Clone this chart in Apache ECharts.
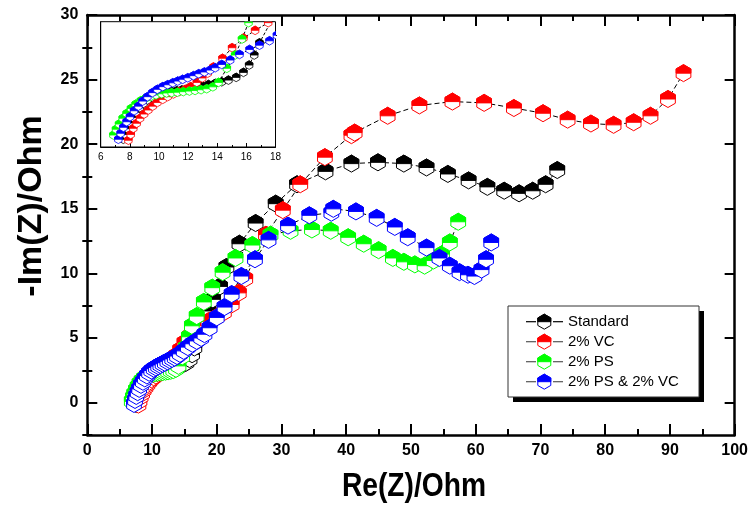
<!DOCTYPE html>
<html>
<head>
<meta charset="utf-8">
<script src="https://cdn.jsdelivr.net/npm/echarts@6/dist/echarts.min.js"></script>
<style>
  html, body { margin: 0; padding: 0; background: #fff; }
  #chart { width: 751px; height: 508px; }
</style>
</head>
<body>
<div id="chart"></div>
<script>
// Nyquist plots: Re(Z) vs -Im(Z), in Ohm
const seriesNames = ['Standard', '2% VC', '2% PS', '2% PS & 2% VC'];
const seriesColors = ['#000000', '#ff0000', '#00ff00', '#0000ff'];

const standardRe = [7.55, 7.68, 7.84, 8.02, 8.22, 8.44, 8.68, 8.94, 9.22, 9.52, 9.84, 10.18, 10.53, 10.88, 11.23, 11.57, 12.02, 12.48, 12.94, 13.40, 13.86, 14.31, 14.77, 15.30, 15.80, 16.19, 16.54, 16.90, 17.9, 18.7, 19.4, 20.5, 21.5, 23.5, 26.0, 29.1, 32.4, 36.8, 40.8, 44.9, 48.9, 52.4, 55.7, 58.9, 61.8, 64.4, 66.7, 68.8, 70.8, 72.6];
const standardIm = [-0.1, 0.15, 0.45, 0.75, 1.03, 1.30, 1.54, 1.76, 1.94, 2.08, 2.19, 2.27, 2.33, 2.38, 2.42, 2.46, 2.54, 2.62, 2.68, 2.74, 2.80, 2.88, 2.97, 3.11, 3.37, 3.75, 4.27, 4.90, 6.3, 7.1, 8.0, 9.0, 10.5, 12.3, 13.9, 15.4, 16.9, 17.9, 18.5, 18.6, 18.5, 18.2, 17.7, 17.2, 16.7, 16.4, 16.2, 16.4, 16.9, 18.0];

const vcRe = [7.9, 8.06, 8.24, 8.47, 8.70, 8.98, 9.27, 9.57, 9.89, 10.26, 10.60, 10.99, 11.38, 11.80, 12.18, 12.60, 12.97, 13.35, 13.74, 14.36, 15.02, 15.8, 16.6, 17.5, 18.7, 19.9, 21.1, 22.3, 23.4, 24.4, 27.6, 30.2, 32.9, 36.7, 40.8, 41.3, 46.4, 51.3, 56.4, 61.3, 65.9, 70.4, 74.2, 77.8, 81.3, 84.4, 87.0, 89.7, 92.1];
const vcIm = [-0.15, 0.15, 0.47, 0.73, 0.99, 1.21, 1.42, 1.62, 1.81, 1.97, 2.11, 2.25, 2.37, 2.49, 2.63, 2.85, 3.08, 3.33, 3.65, 4.10, 4.65, 5.15, 5.55, 5.95, 6.3, 6.6, 7.0, 7.6, 8.5, 9.6, 13.0, 14.9, 16.9, 19.0, 20.7, 20.9, 22.2, 23.0, 23.3, 23.2, 22.8, 22.4, 21.9, 21.6, 21.5, 21.7, 22.2, 23.5, 25.5];

const psRe = [6.87, 7.05, 7.26, 7.51, 7.78, 8.08, 8.40, 8.75, 9.09, 9.43, 9.80, 10.19, 10.53, 10.87, 11.27, 11.67, 12.09, 12.48, 12.89, 13.28, 13.70, 14.09, 14.66, 15.23, 15.70, 16.15, 16.9, 18.0, 19.3, 20.9, 22.9, 25.5, 28.3, 31.4, 34.7, 37.6, 40.3, 42.7, 45.0, 47.2, 48.9, 50.6, 52.1, 53.5, 54.8, 56.0, 57.3];
const psIm = [0.12, 0.42, 0.69, 0.99, 1.24, 1.50, 1.72, 1.90, 2.03, 2.12, 2.20, 2.26, 2.30, 2.32, 2.34, 2.37, 2.40, 2.43, 2.47, 2.52, 2.62, 2.85, 3.58, 4.27, 5.10, 5.95, 6.7, 7.8, 8.9, 10.1, 11.2, 12.2, 13.0, 13.3, 13.4, 13.3, 12.8, 12.3, 11.8, 11.2, 10.9, 10.7, 10.6, 11.0, 11.5, 12.4, 14.0];

const psVcRe = [7.21, 7.37, 7.56, 7.78, 8.01, 8.29, 8.59, 8.88, 9.21, 9.55, 9.89, 10.26, 10.60, 10.95, 11.29, 11.63, 11.98, 12.37, 12.73, 13.12, 13.51, 13.86, 14.31, 14.89, 15.53, 16.22, 16.90, 17.59, 18.1, 18.9, 20.0, 21.2, 22.3, 23.8, 25.9, 28.0, 31.0, 34.3, 37.7, 38.0, 41.5, 44.7, 47.5, 49.5, 52.4, 54.4, 56.0, 57.5, 58.8, 59.8, 60.9, 61.6, 62.4];
const psVcIm = [-0.1, 0.21, 0.52, 0.81, 1.07, 1.38, 1.62, 1.88, 2.11, 2.32, 2.49, 2.63, 2.73, 2.83, 2.92, 3.01, 3.09, 3.20, 3.30, 3.39, 3.49, 3.61, 3.78, 4.01, 4.30, 4.56, 4.78, 5.01, 5.3, 5.8, 6.6, 7.4, 8.4, 9.8, 11.1, 12.6, 13.7, 14.5, 14.7, 15.0, 14.8, 14.3, 13.6, 12.8, 12.0, 11.2, 10.6, 10.1, 9.9, 9.8, 10.3, 11.1, 12.4];

const mainXTicks = [0, 10, 20, 30, 40, 50, 60, 70, 80, 90, 100];
const mainYMajor = [0, 5, 10, 15, 20, 25, 30];
const mainYMinor = [-2.5, 2.5, 7.5, 12.5, 17.5, 22.5, 27.5];

const reValues = [standardRe, vcRe, psRe, psVcRe];
const imValues = [standardIm, vcIm, psIm, psVcIm];

const FONT = "'Liberation Sans', Arial, sans-serif";

function pairs(re, im) {
  return re.map((x, i) => [x, im[i]]);
}

// pointy-top hexagon, upper half filled with the series colour
function hexPoints(cx, cy, r) {
  const w = r * Math.sqrt(3) / 2;
  return {
    full: [[cx, cy - r], [cx + w, cy - r / 2], [cx + w, cy + r / 2], [cx, cy + r], [cx - w, cy + r / 2], [cx - w, cy - r / 2]],
    top: [[cx - w, cy], [cx - w, cy - r / 2], [cx, cy - r], [cx + w, cy - r / 2], [cx + w, cy]]
  };
}

function hexRenderer(r, lw) {
  return function (params, api) {
    const c = api.coord([api.value(0), api.value(1)]);
    const color = api.visual('color');
    const p = hexPoints(c[0], c[1], r);
    return {
      type: 'group',
      children: [
        { type: 'polygon', shape: { points: p.full }, style: { fill: '#ffffff', stroke: color, lineWidth: lw } },
        { type: 'polygon', shape: { points: p.top }, style: { fill: color, stroke: color, lineWidth: lw } }
      ]
    };
  };
}

const series = [];
// main plot
seriesNames.forEach((name, k) => {
  const data = pairs(reValues[k], imValues[k]);
  series.push({
    type: 'line', xAxisIndex: 0, yAxisIndex: 0, data: data, symbol: 'none',
    lineStyle: { color: '#000', width: 1, type: [5, 3] }, z: 2, silent: true, animation: false
  });
  series.push({
    type: 'custom', name: name, xAxisIndex: 0, yAxisIndex: 0, data: data,
    encode: { x: 0, y: 1 }, renderItem: hexRenderer(8.5, 1),
    itemStyle: { color: seriesColors[k] }, z: 3 + k, animation: false, silent: true
  });
});
// inset (zoom on the high-frequency region)
seriesNames.forEach((name, k) => {
  const data = pairs(reValues[k], imValues[k]);
  series.push({
    type: 'line', xAxisIndex: 2, yAxisIndex: 4, data: data, symbol: 'none', clip: true,
    lineStyle: { color: '#000', width: 1, type: [3, 2] }, z: 12, silent: true, animation: false
  });
  series.push({
    type: 'custom', name: name + ' (inset)', xAxisIndex: 2, yAxisIndex: 4, data: data, clip: true,
    encode: { x: 0, y: 1 }, renderItem: hexRenderer(4.3, 0.8),
    itemStyle: { color: seriesColors[k] }, z: 13 + k, animation: false, silent: true
  });
});

const axisLineStyle = { color: '#000', width: 2.5 };

const option = {
  animation: false,
  backgroundColor: '#ffffff',
  grid: [
    { left: 87.3, right: 15.7, top: 15, bottom: 73, containLabel: false },
    { left: 100.7, right: 475.5, top: 21.7, bottom: 361, containLabel: false,
      show: true, backgroundColor: '#ffffff', borderColor: '#000', borderWidth: 1, z: 10 }
  ],
  xAxis: [
    { gridIndex: 0, type: 'value', min: 0, max: 100, interval: 10, position: 'bottom',
      axisLine: { show: true, onZero: false, lineStyle: axisLineStyle },
      axisTick: { show: true, inside: true, length: 11, lineStyle: { color: '#000', width: 2 } },
      minorTick: { show: true, splitNumber: 2, length: 6, lineStyle: { color: '#000', width: 2 } },
      axisLabel: { show: true, color: '#000', fontFamily: FONT, fontWeight: 'bold', fontSize: 16, margin: 8,
        customValues: mainXTicks },
      splitLine: { show: false } },
    { gridIndex: 0, type: 'value', min: 0, max: 100, interval: 10, position: 'top',
      axisLine: { show: true, onZero: false, lineStyle: axisLineStyle },
      axisTick: { show: true, inside: true, length: 11, lineStyle: { color: '#000', width: 2 } },
      minorTick: { show: true, splitNumber: 2, length: 6, lineStyle: { color: '#000', width: 2 } },
      axisLabel: { show: false }, splitLine: { show: false } },
    { gridIndex: 1, type: 'value', min: 6, max: 18, interval: 2, position: 'bottom',
      axisLine: { show: true, onZero: false, lineStyle: { color: '#000', width: 1 } },
      axisTick: { show: true, inside: true, length: 4, lineStyle: { color: '#000', width: 1 } },
      minorTick: { show: true, splitNumber: 2, length: 2, lineStyle: { color: '#000', width: 1 } },
      axisLabel: { show: true, color: '#000', fontFamily: FONT, fontSize: 10, margin: 5 },
      splitLine: { show: false }, z: 11 }
  ],
  yAxis: [
    { gridIndex: 0, type: 'value', min: -2.5, max: 30, position: 'left',
      axisLine: { show: true, onZero: false, lineStyle: axisLineStyle },
      axisTick: { show: true, inside: true, length: 10, customValues: mainYMajor, lineStyle: { color: '#000', width: 2 } },
      axisLabel: { show: true, color: '#000', fontFamily: FONT, fontWeight: 'bold', fontSize: 16, margin: 9,
        customValues: mainYMajor },
      splitLine: { show: false } },
    { gridIndex: 0, type: 'value', min: -2.5, max: 30, position: 'left',
      axisLine: { show: false },
      axisTick: { show: true, inside: true, length: 5, customValues: mainYMinor, lineStyle: { color: '#000', width: 2 } },
      axisLabel: { show: false }, splitLine: { show: false } },
    { gridIndex: 0, type: 'value', min: -2.5, max: 30, position: 'right',
      axisLine: { show: true, onZero: false, lineStyle: axisLineStyle },
      axisTick: { show: true, inside: true, length: 10, customValues: mainYMajor, lineStyle: { color: '#000', width: 2 } },
      axisLabel: { show: false }, splitLine: { show: false } },
    { gridIndex: 0, type: 'value', min: -2.5, max: 30, position: 'right',
      axisLine: { show: false },
      axisTick: { show: true, inside: true, length: 5, customValues: mainYMinor, lineStyle: { color: '#000', width: 2 } },
      axisLabel: { show: false }, splitLine: { show: false } },
    { gridIndex: 1, type: 'value', min: -0.5, max: 6, position: 'left',
      axisLine: { show: true, onZero: false, lineStyle: { color: '#000', width: 1 } },
      axisTick: { show: false }, axisLabel: { show: false }, splitLine: { show: false }, z: 11 }
  ],
  series: series,
  graphic: [
    // axis titles (condensed bold)
    { type: 'text', x: 414, y: 487, scaleX: 0.83, z: 50,
      style: { text: 'Re(Z)/Ohm', fill: '#000', font: "bold 34px " + FONT, textAlign: 'center', textVerticalAlign: 'middle' } },
    { type: 'text', x: 32, y: 206, rotation: Math.PI / 2, z: 50,
      style: { text: '-Im(Z)/Ohm', fill: '#000', font: "bold 34px " + FONT, textAlign: 'center', textVerticalAlign: 'middle' } },
    // legend box with drop shadow
    { type: 'rect', shape: { x: 513, y: 311, width: 191, height: 91 }, style: { fill: '#000' }, z: 40 },
    { type: 'rect', shape: { x: 508, y: 306, width: 191, height: 91 }, style: { fill: '#fff', stroke: '#333', lineWidth: 1 }, z: 41 }
  ]
};

// legend rows: dash, half-filled hexagon, dash, label
seriesNames.forEach((name, k) => {
  const cy = 321.7 + k * 20;
  const cx = 544.3;
  const p = hexPoints(cx, cy, 7.5);
  const dashColor = k === 0 ? '#000' : '#555';
  option.graphic.push(
    { type: 'line', shape: { x1: 526, y1: cy, x2: 536, y2: cy }, style: { stroke: dashColor, lineWidth: 1.2 }, z: 42 },
    { type: 'line', shape: { x1: 553, y1: cy, x2: 563, y2: cy }, style: { stroke: dashColor, lineWidth: 1.2 }, z: 42 },
    { type: 'polygon', shape: { points: p.full }, style: { fill: '#fff', stroke: seriesColors[k], lineWidth: 1 }, z: 43 },
    { type: 'polygon', shape: { points: p.top }, style: { fill: seriesColors[k], stroke: seriesColors[k], lineWidth: 1 }, z: 44 },
    { type: 'text', x: 568, y: cy + 0.5, z: 45,
      style: { text: name, fill: '#000', font: "15px " + FONT, textAlign: 'left', textVerticalAlign: 'middle' } }
  );
});

const chart = echarts.init(document.getElementById('chart'), null, { renderer: 'canvas' });
chart.setOption(option);
</script>
</body>
</html>
